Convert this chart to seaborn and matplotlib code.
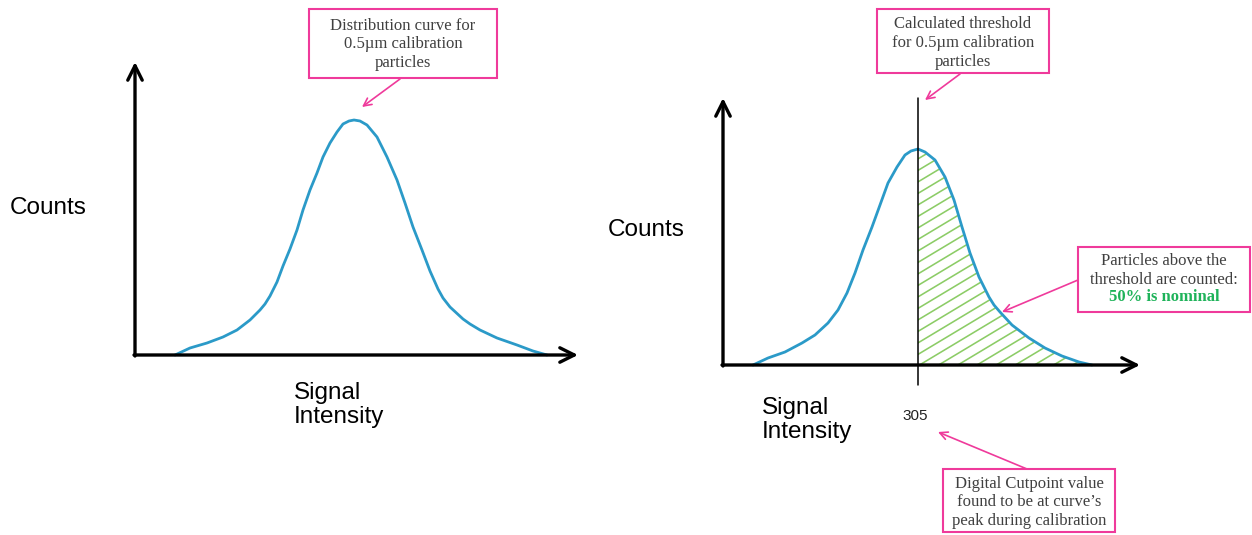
import numpy as np
import pandas as pd
import matplotlib
matplotlib.use("Agg")
import matplotlib.pyplot as plt
from matplotlib.patches import Rectangle
from matplotlib.transforms import IdentityTransform
import seaborn as sns

# left panel: distribution curve of the calibration particles (signal, counts)
cal_signal = [125, 140, 157, 173, 187, 200, 210, 215, 220, 227, 233, 240, 247, 253, 260,
              267, 273, 280, 287, 293, 299, 304, 310, 317, 327, 337, 347, 355, 363,
              372, 380, 388, 393, 400, 413, 420, 430, 447, 467, 483, 497]
cal_counts = [0, 7, 12, 18, 25, 35, 45, 51, 59, 73, 89, 106, 125, 145, 165,
              182, 198, 212, 223, 231, 234, 235, 234, 230, 218, 198, 175, 152, 128,
              105, 84, 66, 57, 48, 36, 31, 25, 17, 10, 4, 0]

# right panel: same curve with the threshold at the peak
thr_signal = [140, 155, 172, 189, 202, 215, 225, 234, 242, 250, 259, 267, 275, 284,
              292, 298, 305, 312, 322, 332, 341, 349, 357, 366, 376, 381, 387, 399, 416,
              432, 449, 466, 479]
thr_counts = [0, 7, 13, 22, 30, 42, 55, 72, 92, 115, 138, 160, 182, 198,
              210, 214, 216, 213, 205, 188, 165, 138, 112, 88, 68, 60, 53, 40, 27,
              17, 9, 3, 0]

cutpoint = 305
cutpoint_label = "305"

box_texts = {
    "dist": "Distribution curve for\n0.5\u00b5m calibration\nparticles",
    "thr": "Calculated threshold\nfor 0.5\u00b5m calibration\nparticles",
    "count": "Particles above the\nthreshold are counted:",
    "cut": "Digital Cutpoint value\nfound to be at curve\u2019s\npeak during calibration",
}
nominal_text = "50% is nominal"

df_cal = pd.DataFrame({"signal": cal_signal, "counts": cal_counts})
df_thr = pd.DataFrame({"signal": thr_signal, "counts": thr_counts})

sns.set_theme(style="white")
plt.rcParams["font.family"] = ["Liberation Sans", "DejaVu Sans"]

curve_col = "#2b9ac8"
pink = "#ef3a9b"
green_hatch = "#8ccc66"
text_gray = "#404040"

W, H = 1252, 535
fig = plt.figure(figsize=(W / 100, H / 100), dpi=100)
px = IdentityTransform()
# one data unit = one pixel in both panels
ax1 = fig.add_axes([0, 0, 0.5, 1])
ax1.set_xlim(-50, 576)
ax1.set_ylim(-180, 355)
ax2 = fig.add_axes([0.5, 0, 0.5, 1])
ax2.set_xlim(13, 639)
ax2.set_ylim(-170, 365)
for ax in (ax1, ax2):
    ax.axis("off")

axis_arrow = dict(arrowstyle="->", lw=2.4, color="black", mutation_scale=26,
                  shrinkA=0, shrinkB=0)

# ---- left panel
ax1.annotate("", xy=(85, 293), xytext=(85, -1), arrowprops=axis_arrow)
ax1.annotate("", xy=(528, 0), xytext=(84, 0), arrowprops=axis_arrow)
sns.lineplot(data=df_cal, x="signal", y="counts", ax=ax1, color=curve_col, lw=2)

# ---- right panel
ax2.annotate("", xy=(110, 267), xytext=(110, -1), arrowprops=axis_arrow)
ax2.annotate("", xy=(527, 0), xytext=(109, 0), arrowprops=axis_arrow)

# hatched area above the threshold
tail = df_thr[df_thr.signal >= cutpoint]
poly = ax2.fill_between(tail.signal, tail.counts, 0, facecolor="none", edgecolor="none")
clip = poly.get_paths()[0]
xs = np.array([cutpoint, 500])
for c in np.arange(-12.4 - 11.5 * 12, 230, 11.5):
    ln, = ax2.plot(xs, c + 0.6 * (xs - cutpoint), color=green_hatch, lw=1.15)
    ln.set_clip_path(clip, ax2.transData)

sns.lineplot(data=df_thr, x="signal", y="counts", ax=ax2, color=curve_col, lw=2)
ax2.plot([cutpoint, cutpoint], [-20, 267], color="black", lw=1.1)
ax2.text(cutpoint - 2.5, -51, cutpoint_label, ha="center", va="center", fontsize=11,
         color="#222222")

# axis labels
lab = dict(fontsize=17.5, color="black", linespacing=1.15, transform=px)
fig.text(10, H - 208, "Counts", va="center", ha="left", **lab)
fig.text(294, H - 405, "Signal\nIntensity", va="center", ha="left", **lab)
fig.text(608, H - 230, "Counts", va="center", ha="left", **lab)
fig.text(762, H - 420, "Signal\nIntensity", va="center", ha="left", **lab)

# callout boxes (left, top, right, bottom in pixels from top-left)
boxes = [(309, 9, 497, 78), (877, 9, 1049, 73), (1078, 247, 1250, 312),
         (943, 469, 1115, 532)]
for x0, y0, x1, y1 in boxes:
    fig.add_artist(Rectangle((x0, H - y1), x1 - x0, y1 - y0, transform=px,
                             fc="white", ec=pink, lw=1.5))

serif = dict(family=["Liberation Serif", "DejaVu Serif"], fontsize=12,
             color=text_gray, ha="center", va="center", linespacing=1.22,
             transform=px)
fig.text(403, H - 44.5, box_texts["dist"], **serif)
fig.text(963, H - 43, box_texts["thr"], **serif)
fig.text(1164, H - 270.5, box_texts["count"], **serif)
fig.text(1164, H - 297, nominal_text, fontweight="bold", **{**serif, "color": "#1fb35a"})
fig.text(1029, H - 502.5, box_texts["cut"], **serif)

# callout arrows
pointer = dict(arrowstyle="->", lw=1.2, color=pink, mutation_scale=14,
               shrinkA=0, shrinkB=0)
ax1.annotate("", xy=(312, 248), xytext=(400, H - 79), textcoords="figure pixels",
             arrowprops=pointer)
ax2.annotate("", xy=(312, 265), xytext=(960, H - 74), textcoords="figure pixels",
             arrowprops=pointer)
ax2.annotate("", xy=(389, 53), xytext=(1078, H - 280), textcoords="figure pixels",
             arrowprops=pointer)
ax2.annotate("", xy=(325, -67), xytext=(1027, H - 469), textcoords="figure pixels",
             arrowprops=pointer)

fig.savefig("out.png", dpi=100)
